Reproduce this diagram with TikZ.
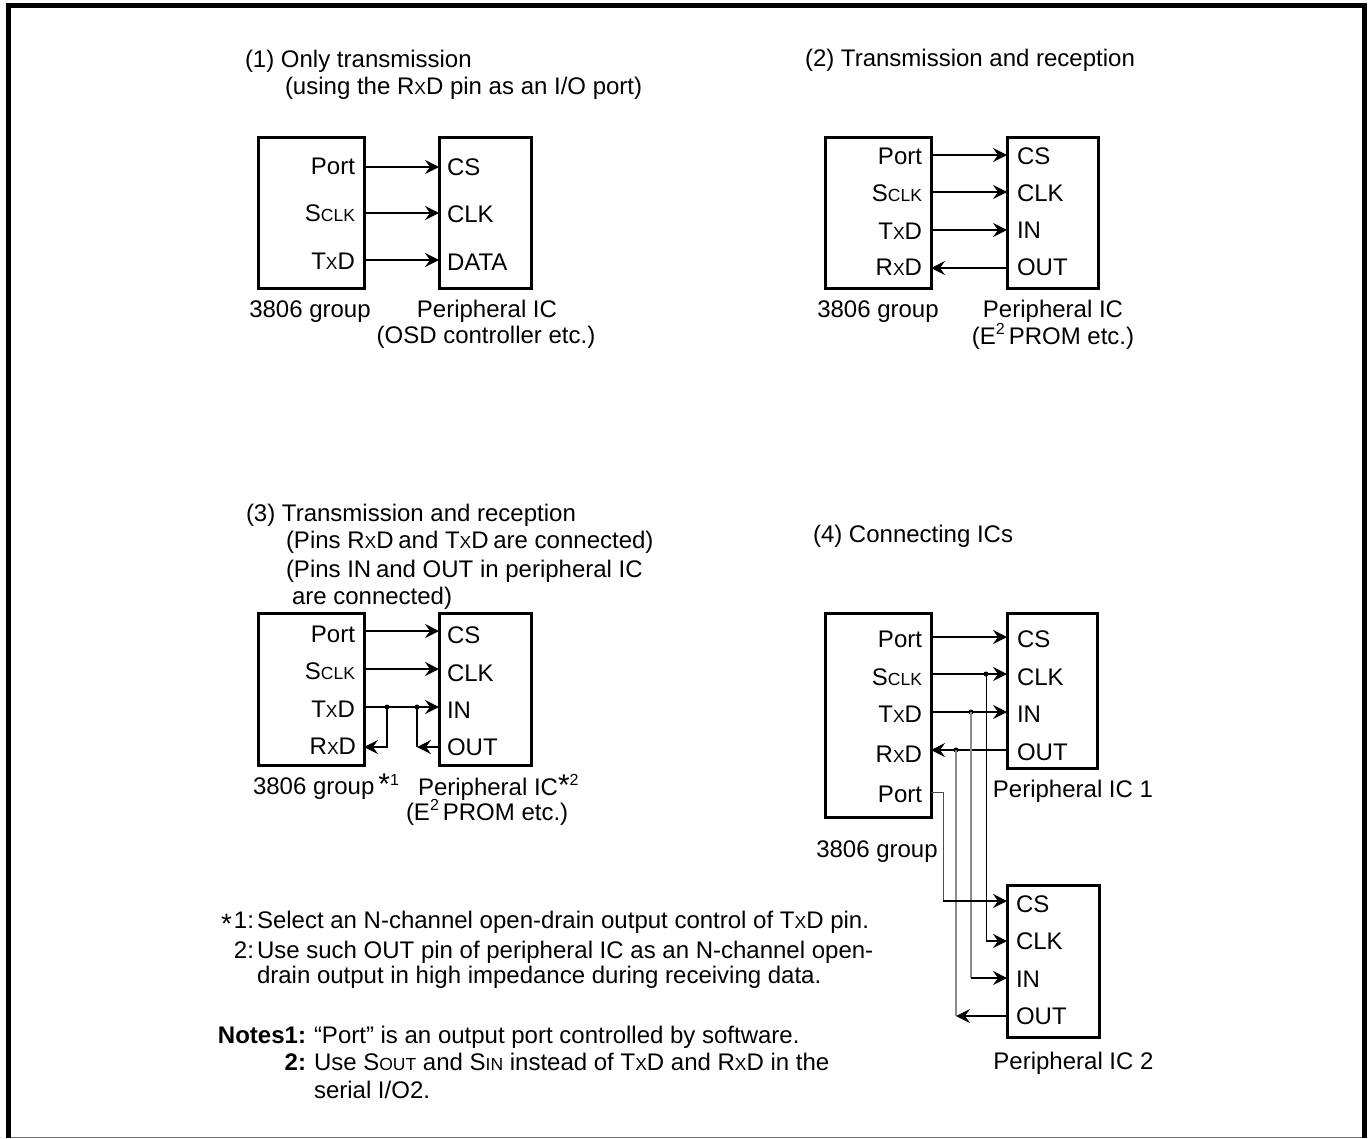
\documentclass[tikz,border=0pt]{standalone}
\usepackage{fontspec}
\setmainfont{Liberation Sans}
\usetikzlibrary{arrows.meta}
\newcommand\sm[1]{{\fontsize{17.5}{17.5}\selectfont #1}}
\newcommand\txd{T\sm{X}D}
\newcommand\rxd{R\sm{X}D}
\newcommand\sclk{S\sm{CLK}}
\newcommand\supn[1]{\raisebox{10pt}{\fontsize{16}{16}\selectfont #1}}
\newcommand\bigf{\fontsize{24}{26}\selectfont}
\tikzset{
  txt/.style={anchor=base west,inner sep=0pt,outer sep=0pt,font=\bigf},
  pinl/.style={anchor=base east,inner sep=0pt,outer sep=0pt,font=\bigf},
  pinr/.style={txt},
  captxt/.style={anchor=base,inner sep=0pt,outer sep=0pt,font=\bigf},
  wire/.style={line width=1.2pt,-{Stealth[length=14pt,width=14pt,inset=5pt]}},
  greywire/.style={line width=2pt,draw=black!45},
  greyarrow/.style={line width=1.1pt,-{Stealth[length=14pt,width=14pt,inset=5pt]}},
  thinwire/.style={line width=1pt},
  dot/.style={circle,fill=black,inner sep=0pt,minimum size=5pt},
}
\newcommand\icb[5]{\path[draw,line width=3pt] (#2,#3) rectangle (#4,#5) node[pos=.5,inner sep=0pt] (#1) {};}
\begin{document}
\begin{tikzpicture}[x=1pt,y=-1pt]
\useasboundingbox (0,0) rectangle (1372,1138);
\draw[line width=5pt] (8.5,1138) -- (8.5,5.5) -- (1364.5,5.5) -- (1364.5,1138);
\draw[line width=1pt,black!55] (11,1137.5) -- (1362,1137.5);
% ---- (1)
\node[txt] (t1a) at (245,67) {(1) Only transmission};
\node[txt] (t1b) at (285,94) {(using the \rxd\ pin as an I/O port)};
\icb{a1}{258}{137}{364}{288}
\icb{b1}{439}{137}{531}{288}
\node[pinl] (a1p) at (355,174) {Port};
\node[pinl] (a1s) at (355,221) {\sclk};
\node[pinl] (a1t) at (355,269) {\txd};
\node[pinr] (b1c) at (447,175) {CS};
\node[pinr] (b1k) at (447,222) {CLK};
\node[pinr] (b1d) at (447,270) {DATA};
\coordinate (a1pe) at (364,167); \coordinate (b1ce) at (439,167);
\coordinate (a1se) at (364,213); \coordinate (b1ke) at (439,213);
\coordinate (a1te) at (364,260); \coordinate (b1de) at (439,260);
\draw[wire] (a1pe) -- (b1ce);
\draw[wire] (a1se) -- (b1ke);
\draw[wire] (a1te) -- (b1de);
\node[captxt] (c1a) at (310,317) {3806 group};
\node[captxt] (c1b) at (487,317) {Peripheral IC};
\node[captxt] (c1c) at (486,343) {(OSD controller etc.)};
% ---- (2)
\node[txt] (t2a) at (805,66) {(2) Transmission and reception};
\icb{a2}{825}{137}{931}{288}
\icb{b2}{1007}{137}{1098}{288}
\node[pinl] (a2p) at (922,164) {Port};
\node[pinl] (a2s) at (922,201) {\sclk};
\node[pinl] (a2t) at (922,239) {\txd};
\node[pinl] (a2r) at (922,275) {\rxd};
\node[pinr] (b2c) at (1017,164) {CS};
\node[pinr] (b2k) at (1017,201) {CLK};
\node[pinr] (b2i) at (1017,238) {IN};
\node[pinr] (b2o) at (1017,275) {OUT};
\coordinate (a2pe) at (931,155); \coordinate (b2ce) at (1007,155);
\coordinate (a2se) at (931,192); \coordinate (b2ke) at (1007,192);
\coordinate (a2te) at (931,230); \coordinate (b2ie) at (1007,230);
\coordinate (a2re) at (931,268); \coordinate (b2oe) at (1007,268);
\draw[wire] (a2pe) -- (b2ce);
\draw[wire] (a2se) -- (b2ke);
\draw[wire] (a2te) -- (b2ie);
\draw[wire] (b2oe) -- (a2re);
\node[captxt] (c2a) at (878,317) {3806 group};
\node[captxt] (c2b) at (1053,317) {Peripheral IC};
\node[captxt] (c2c) at (1053,344) {(E\supn{2}\,PROM etc.)};
% ---- (3)
\node[txt] (t3a) at (246,521) {(3) Transmission and reception};
\node[txt] (t3b) at (286,548) {(Pins \rxd\kern-2pt\ and \txd\kern-2pt\ are connected)};
\node[txt] (t3c) at (286,577) {(Pins IN\kern-2pt\ and OUT in peripheral IC};
\node[txt] (t3d) at (292,604) {are connected)};
\icb{a3}{258}{613}{364}{765}
\icb{b3}{439}{613}{531}{765}
\node[pinl] (a3p) at (355,642) {Port};
\node[pinl] (a3s) at (355,679) {\sclk};
\node[pinl] (a3t) at (355,717) {\txd};
\node[pinl] (a3r) at (356,754) {\rxd};
\node[pinr] (b3c) at (447,643) {CS};
\node[pinr] (b3k) at (447,681) {CLK};
\node[pinr] (b3i) at (447,718) {IN};
\node[pinr] (b3o) at (447,755) {OUT};
\coordinate (a3pe) at (364,631); \coordinate (b3ce) at (439,631);
\coordinate (a3se) at (364,669); \coordinate (b3ke) at (439,669);
\coordinate (a3te) at (364,707); \coordinate (b3ie) at (439,707);
\coordinate (a3re) at (364,747); \coordinate (b3oe) at (439,747);
\node[dot] (j3a) at (387,707) {};
\node[dot] (j3b) at (417,707) {};
\coordinate (k3a) at (387,747);
\coordinate (k3b) at (417,747);
\draw[wire] (a3pe) -- (b3ce);
\draw[wire] (a3se) -- (b3ke);
\draw[wire] (a3te) -- (b3ie);
\draw[greyarrow] (j3a.center) -- (k3a) -- (a3re);
\draw[greyarrow] (b3oe) -- (k3b);
\draw[line width=1.1pt] (k3b) -- (j3b.center);
\node[captxt,anchor=base west] (c3a) at (253,794) {3806 group\,{\fontsize{30}{30}\selectfont*\raisebox{9pt}{\fontsize{16}{16}\selectfont 1}}};
\node[captxt,anchor=base west] (c3b) at (418,795) {Peripheral IC{\fontsize{30}{30}\selectfont*\raisebox{10pt}{\fontsize{16}{16}\selectfont 2}}};
\node[captxt,anchor=base west] (c3c) at (406,820) {(E\supn{2}\,PROM etc.)};
% ---- (4)
\node[txt] (t4a) at (813,542) {(4) Connecting ICs};
\icb{a4}{825}{613}{931}{817}
\icb{b4}{1007}{613}{1097}{768}
\icb{d4}{1007}{885}{1099}{1037}
\node[pinl] (a4p) at (922,647) {Port};
\node[pinl] (a4s) at (922,685) {\sclk};
\node[pinl] (a4t) at (922,722) {\txd};
\node[pinl] (a4r) at (922,762) {\rxd};
\node[pinl] (a4q) at (922,802) {Port};
\node[pinr] (b4c) at (1017,647) {CS};
\node[pinr] (b4k) at (1017,685) {CLK};
\node[pinr] (b4i) at (1017,722) {IN};
\node[pinr] (b4o) at (1017,760) {OUT};
\node[pinr] (d4c) at (1016,912) {CS};
\node[pinr] (d4k) at (1016,949) {CLK};
\node[pinr] (d4i) at (1016,987) {IN};
\node[pinr] (d4o) at (1016,1024) {OUT};
\coordinate (a4pe) at (931,637); \coordinate (b4ce) at (1007,637);
\coordinate (a4se) at (931,674); \coordinate (b4ke) at (1007,674);
\coordinate (a4te) at (931,712); \coordinate (b4ie) at (1007,712);
\coordinate (a4re) at (931,750); \coordinate (b4oe) at (1007,750);
\coordinate (a4qe) at (931,792); \coordinate (q4) at (943,792);
\coordinate (q4b) at (943,901); \coordinate (d4ce) at (1007,901);
\coordinate (s4b) at (986,941); \coordinate (d4ke) at (1007,941);
\coordinate (t4b) at (971,978); \coordinate (d4ie) at (1007,978);
\coordinate (r4b) at (956,1016); \coordinate (d4oe) at (1007,1016);
\node[dot] (j4s) at (986,674) {};
\node[dot] (j4t) at (971,712) {};
\node[dot] (j4r) at (956,750) {};
\draw[wire] (a4pe) -- (b4ce);
\draw[wire] (a4se) -- (b4ke);
\draw[wire] (a4te) -- (b4ie);
\draw[wire] (b4oe) -- (a4re);
\draw[greywire] (j4r.center) -- (r4b);
\draw[greywire] (j4t.center) -- (t4b);
\draw[thinwire,black!70] (a4qe) -- (q4) -- (q4b);
\draw[thinwire] (j4s.center) -- (s4b);
\draw[greyarrow] (q4b) -- (d4ce);
\draw[greyarrow] (s4b) -- (d4ke);
\draw[greyarrow] (t4b) -- (d4ie);
\draw[greyarrow] (d4oe) -- (r4b);
\node[captxt] (c4a) at (877,857) {3806 group};
\node[captxt] (c4b) at (1073,797) {Peripheral IC 1};
\node[captxt] (c4c) at (1073.5,1069) {Peripheral IC 2};
% ---- notes
\node[pinl] (n1n) at (254,928) {\raisebox{-5pt}{\fontsize{28}{28}\selectfont *}\kern2pt1:};
\node[txt] (n1t) at (257,928) {Select an N-channel open-drain output control of \txd\ pin.};
\node[pinl] (n2n) at (254,958) {2:};
\node[txt] (n2t) at (257,958) {Use such OUT pin of peripheral IC as an N-channel open-};
\node[txt] (n2u) at (257,983) {drain output in high impedance during receiving data.};
\node[pinl,font=\bigf\bfseries] (n3n) at (306,1043) {Notes1:};
\node[txt] (n3t) at (314,1043) {“Port” is an output port controlled by software.};
\node[pinl,font=\bigf\bfseries] (n4n) at (306,1070) {2:};
\node[txt] (n4t) at (314,1070) {Use S\sm{OUT} and S\sm{IN} instead of \txd\ and \rxd\ in the};
\node[txt] (n4u) at (314,1098) {serial I/O2.};
\end{tikzpicture}
\end{document}
